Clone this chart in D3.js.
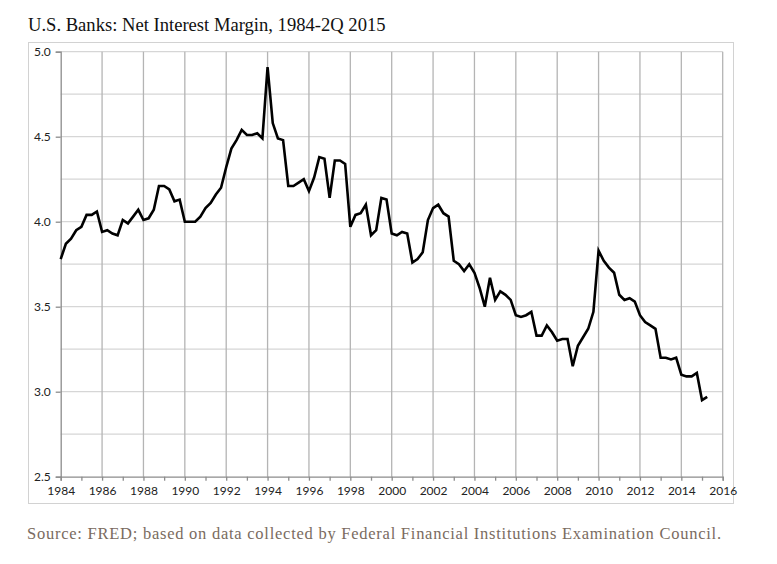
<!DOCTYPE html>
<html>
<head>
<meta charset="utf-8">
<script src="https://cdnjs.cloudflare.com/ajax/libs/d3/7.8.5/d3.min.js"></script>
<style>
  body { margin: 0; background: #fff; }
  svg { display: block; }
</style>
</head>
<body>
<script>
/*---------------------------
 DATA: quarterly net interest margin (%), 1984Q1 - 2015Q2
---------------------------*/
var startYear = 1984;
var nim = [
  3.78, 3.87, 3.90, 3.95, 3.97, 4.04, 4.04, 4.06,   // 1984-85
  3.94, 3.95, 3.93, 3.92, 4.01, 3.99, 4.03, 4.07,   // 1986-87
  4.01, 4.02, 4.07, 4.21, 4.21, 4.19, 4.12, 4.13,   // 1988-89
  4.00, 4.00, 4.00, 4.03, 4.08, 4.11, 4.16, 4.20,   // 1990-91
  4.32, 4.43, 4.48, 4.54, 4.51, 4.51, 4.52, 4.49,   // 1992-93
  4.91, 4.58, 4.49, 4.48, 4.21, 4.21, 4.23, 4.25,   // 1994-95
  4.18, 4.26, 4.38, 4.37, 4.14, 4.36, 4.36, 4.34,   // 1996-97
  3.97, 4.04, 4.05, 4.10, 3.92, 3.95, 4.14, 4.13,   // 1998-99
  3.93, 3.92, 3.94, 3.93, 3.76, 3.78, 3.82, 4.01,   // 2000-01
  4.08, 4.10, 4.05, 4.03, 3.77, 3.75, 3.71, 3.75,   // 2002-03
  3.70, 3.61, 3.50, 3.67, 3.54, 3.59, 3.57, 3.54,   // 2004-05
  3.45, 3.44, 3.45, 3.47, 3.33, 3.33, 3.39, 3.35,   // 2006-07
  3.30, 3.31, 3.31, 3.15, 3.27, 3.32, 3.37, 3.47,   // 2008-09
  3.83, 3.77, 3.73, 3.70, 3.57, 3.54, 3.55, 3.53,   // 2010-11
  3.45, 3.41, 3.39, 3.37, 3.20, 3.20, 3.19, 3.20,   // 2012-13
  3.10, 3.09, 3.09, 3.11, 2.95, 2.97                // 2014-2Q 2015
];
var yTicks = [2.5, 3.0, 3.5, 4.0, 4.5, 5.0];
var xLabels = [1984, 1986, 1988, 1990, 1992, 1994, 1996, 1998, 2000,
               2002, 2004, 2006, 2008, 2010, 2012, 2014, 2016];

var titleText = "U.S. Banks: Net Interest Margin, 1984-2Q 2015";
var sourceText = "Source: FRED; based on data collected by Federal Financial Institutions Examination Council.";

/*---------------------------
 SVG + FRAME
---------------------------*/
var svg = d3.select("body")
            .append("svg")
            .attr("width", 777)
            .attr("height", 564);

svg.append("rect")
   .attr("x", 28.5)
   .attr("y", 42.5)
   .attr("width", 705)
   .attr("height", 461)
   .style("fill", "#fff")
   .style("stroke", "#d2d2d2");

svg.append("text")
   .attr("x", 28)
   .attr("y", 31)
   .style("font-family", "'Liberation Serif', serif")
   .style("font-size", "18.6px")
   .style("fill", "#111")
   .text(titleText);

svg.append("text")
   .attr("x", 27)
   .attr("y", 539)
   .attr("textLength", 694)
   .style("font-family", "'Liberation Serif', serif")
   .style("font-size", "16.5px")
   .style("fill", "#7a6b60")
   .text(sourceText);

/*---------------------------
 SCALES
---------------------------*/
var x = d3.scaleLinear().domain([1984, 2016]).range([60.7, 722.7]);
var y = d3.scaleLinear().domain([2.5, 5.0]).range([476.7, 51.7]);

// horizontal gridlines every 0.25
svg.append("g")
   .selectAll("line")
   .data(d3.range(2.75, 5.01, 0.25))
   .enter()
   .append("line")
   .attr("x1", x(1984))
   .attr("x2", x(2016))
   .attr("y1", function(d) { return y(d); })
   .attr("y2", function(d) { return y(d); })
   .style("stroke", "#d6d6d6")
   .style("stroke-width", 1.3);

// vertical gridlines on even years
svg.append("g")
   .selectAll("line")
   .data(xLabels.slice(1))
   .enter()
   .append("line")
   .attr("x1", function(d) { return x(d); })
   .attr("x2", function(d) { return x(d); })
   .attr("y1", y(5.0))
   .attr("y2", y(2.5))
   .style("stroke", "#b4b4b4")
   .style("stroke-width", 1.3);

/*---------------------------
 AXES
---------------------------*/
var yAxis = d3.axisLeft(y)
              .tickValues(yTicks)
              .tickSize(5)
              .tickPadding(5)
              .tickFormat(d3.format(".1f"));

var xAxis = d3.axisBottom(x)
              .tickValues(d3.range(1984, 2017, 1))
              .tickSize(4)
              .tickPadding(6)
              .tickFormat(function(d) { return d % 2 === 0 ? d : ""; });

var gy = svg.append("g")
            .attr("transform", "translate(" + x(1984) + ",0)")
            .call(yAxis);

var gx = svg.append("g")
            .attr("transform", "translate(0," + y(2.5) + ")")
            .call(xAxis);

[gx, gy].forEach(function(g) {
  g.select(".domain").style("stroke", "#8c8c8c").style("stroke-width", 1.3);
  g.selectAll(".tick line").style("stroke", "#8c8c8c").style("stroke-width", 1.3);
  g.selectAll(".tick text")
   .style("font-family", "Lato, 'Liberation Sans', sans-serif")
   .style("font-size", "12px")
   .style("fill", "#222");
});

/*---------------------------
 LINE
---------------------------*/
var line = d3.line()
             .x(function(d, i) { return x(startYear + i / 4); })
             .y(function(d) { return y(d); });

svg.append("path")
   .datum(nim)
   .attr("d", line)
   .style("fill", "none")
   .style("stroke", "#000")
   .style("stroke-width", 2.6)
   .style("stroke-linejoin", "miter");
</script>
</body>
</html>
